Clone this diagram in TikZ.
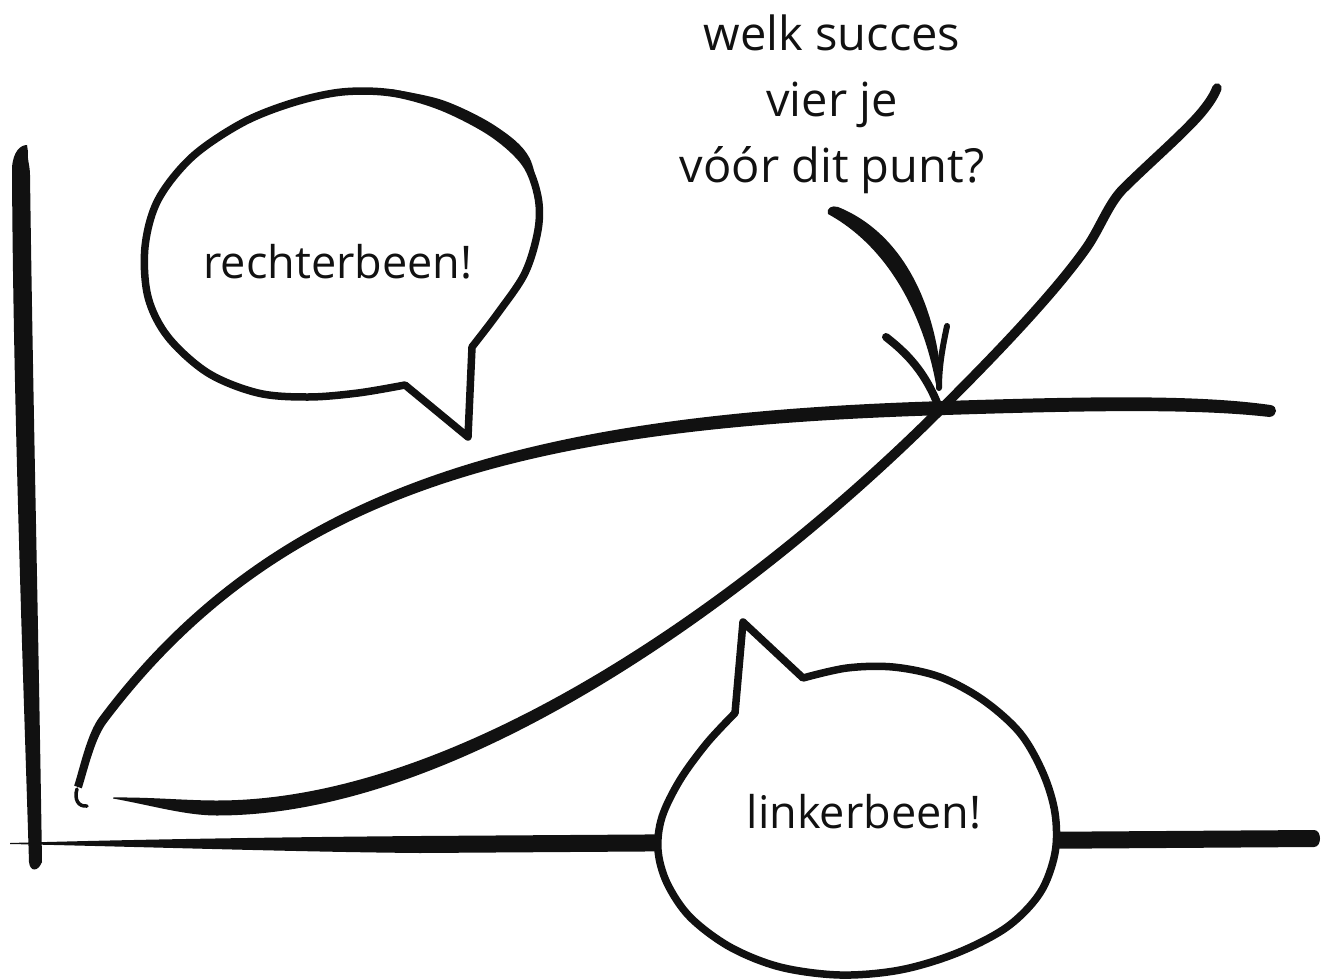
\documentclass[tikz,border=0pt]{standalone}
\usepackage{fontspec}
\setmainfont{Open Sans}
\definecolor{ink}{HTML}{111111}
\begin{document}
\begin{tikzpicture}[x=1pt,y=-1pt]
\tikzset{
  stroke/.style={draw=ink, line cap=round, line join=round},
  bubble/.style={draw=ink, fill=white, line width=7.5pt, line join=round},
  label/.style={font=\fontsize{45}{66}\selectfont, text=ink, inner sep=0pt},
  question/.style={font=\fontsize{47}{66}\selectfont, text=ink, inner sep=0pt, align=center},
}
\useasboundingbox (0,0) rectangle (1322,979);
% vertical axis
\fill[ink] (27,145) .. controls (20,145) and (13,152) .. (12,168)
  .. controls (13,400) and (24,700) .. (29,862)
  .. controls (30,872) and (38,872) .. (42,862)
  .. controls (38,600) and (33,400) .. (30,175)
  .. controls (30,165) and (27,160) .. (28,152) -- cycle;
% horizontal axis
\fill[ink] (10,843) .. controls (150,839) and (300,837) .. (420,836) -- (1314,830)
  .. controls (1322,830) and (1322,847) .. (1314,847) -- (420,853)
  .. controls (300,852) and (150,847) .. (10,844) -- cycle;
% upper curve (rechterbeen), tapered
\draw[stroke, line width=3.5] (87,806) .. controls (78,807) and (74,799) .. (77,789);
\fill[ink] (74.2,785.7) .. controls (80.2,766.7) and (87.4,733.3) .. (99.4,717.3)
  .. controls (279,477) and (544.8,413) .. (944.8,401)
  .. controls (1100,396) and (1200,395) .. (1270.5,405)
  .. controls (1278,406) and (1278,416) .. (1269.5,417)
  .. controls (1200,409) and (1100,410) .. (945.2,415)
  .. controls (545.2,427) and (287,483) .. (106.6,722.7)
  .. controls (94.6,738.7) and (87.8,769.3) .. (81.8,788.3) -- cycle;
% lower curve (linkerbeen), tapered lower part
\fill[ink] (113,797.5) .. controls (150,797) and (185,800.5) .. (217,800.5)
  .. controls (467,800.5) and (759.5,583.5) .. (936.5,406.5)
  -- (943.5,413.5)
  .. controls (766.5,590.5) and (467,815.5) .. (217,815.5)
  .. controls (185,815.5) and (150,805) .. (113,798.5) -- cycle;
\coordinate (cross) at (940,410);
\draw[stroke, line width=9.5] (cross) .. controls (975,375) and (1050,300) .. (1087,247)
  .. controls (1100,228) and (1108,205) .. (1122,190)
  .. controls (1150,162) and (1190,128) .. (1205,108)
  .. controls (1212,99) and (1215,93) .. (1217,88);
% speech bubbles
\draw[bubble] (472,347) -- plot[smooth, tension=0.55] coordinates {(472,347) (498,313) (525,273) (538,230) (538,197) (525,163) (492,133) (442,107) (392,93) (342,92) (292,103) (242,123) (192,157) (158,200) (145,247) (148,297) (168,337) (208,373) (258,393) (308,397) (358,393) (405,385)} -- (468,437) -- cycle;
\fill[ink] plot[smooth, tension=0.55] coordinates {(538,215) (525,163) (492,133) (442,107) (392,93)}
  -- plot[smooth, tension=0.55] coordinates {(392.2,89.3) (443.7,100.5) (495.9,126.3) (529.7,158.3) (541.8,215)} -- cycle;
\draw[bubble] (743,622) -- (735,713) -- plot[smooth, tension=0.55] coordinates {(735,713) (707,743) (680,780) (662,817) (658,850) (667,883) (690,917) (730,947) (780,967) (840,975) (900,970) (957,953) (1007,927) (1040,893) (1055,853) (1055,813) (1043,773) (1020,733) (983,700) (940,677) (893,667) (847,668) (803,678)} -- cycle;
\node[label] (rb) at (338,262) {rechterbeen!};
\node[label] (lb) at (864,812) {linkerbeen!};
% question
\node[question] (q) at (832,104) {welk succes\\vier je\\vóór dit punt?};
% arrow
\fill[ink] (828,214) .. controls (826,208) and (832,205) .. (838,207)
  .. controls (900,232) and (936,300) .. (942,386) -- (937,390)
  .. controls (925,318) and (890,248) .. (828,214) -- cycle;
\draw[stroke, line width=8] (886,337) .. controls (905,352) and (925,370) .. (cross);
\draw[stroke, line width=6] (947,326) .. controls (943,345) and (939,365) .. (939,388);
\end{tikzpicture}
\end{document}
